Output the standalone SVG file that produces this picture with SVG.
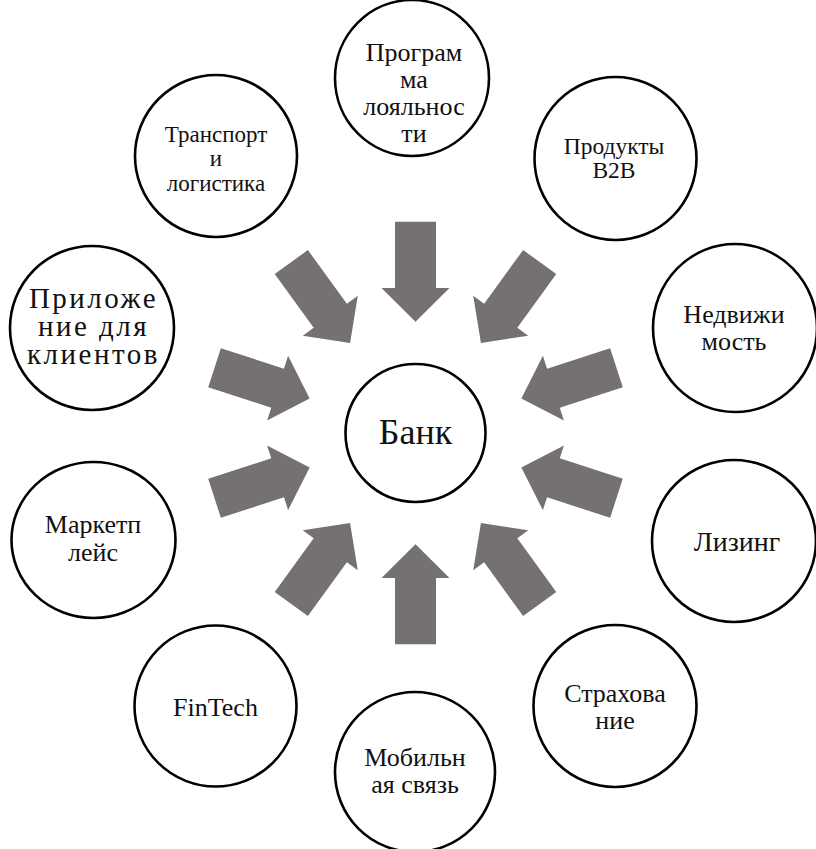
<svg xmlns="http://www.w3.org/2000/svg" width="816" height="849" viewBox="0 0 816 849">
<style>
.node ellipse{fill:#fff;stroke:#000;stroke-width:2.6}
.node text{font-family:"Liberation Serif","DejaVu Serif",serif;fill:#111;text-anchor:middle}
.arr{fill:#767171}
</style>
<defs>
<polygon id="arrow" points="-20.5,-211.3 20.5,-211.3 20.5,-145 34,-145 0,-111.3 -34,-145 -20.5,-145"/>
</defs>
<rect width="816" height="849" fill="#fff"/>
<g id="connectors" class="arr">
<use href="#arrow" transform="translate(415.5,433) rotate(0)"/>
<use href="#arrow" transform="translate(415.5,433) rotate(36)"/>
<use href="#arrow" transform="translate(415.5,433) rotate(72)"/>
<use href="#arrow" transform="translate(415.5,433) rotate(108)"/>
<use href="#arrow" transform="translate(415.5,433) rotate(144)"/>
<use href="#arrow" transform="translate(415.5,433) rotate(180)"/>
<use href="#arrow" transform="translate(415.5,433) rotate(216)"/>
<use href="#arrow" transform="translate(415.5,433) rotate(252)"/>
<use href="#arrow" transform="translate(415.5,433) rotate(288)"/>
<use href="#arrow" transform="translate(415.5,433) rotate(324)"/>
</g>
<g id="bank" class="node">
<ellipse cx="415.5" cy="433" rx="70" ry="69"/>
<text x="415.5" y="444" font-family="Liberation Serif, serif" font-size="36">Банк</text>
</g>
<g id="loyalty" class="node">
<ellipse cx="412" cy="78" rx="77" ry="78"/>
<text font-family="Liberation Serif, serif" font-size="26"><tspan x="414" y="61">Програм</tspan><tspan x="414" y="88">ма</tspan><tspan x="414" y="115">лояльнос</tspan><tspan x="414" y="142">ти</tspan></text>
</g>
<g id="b2b" class="node">
<ellipse cx="615.5" cy="158.5" rx="81" ry="81.5"/>
<text font-family="Liberation Serif, serif" font-size="23.5"><tspan x="614" y="154">Продукты</tspan><tspan x="614" y="178">B2B</tspan></text>
</g>
<g id="realty" class="node">
<ellipse cx="735" cy="328" rx="82" ry="84"/>
<text font-family="Liberation Serif, serif" font-size="26"><tspan x="734" y="323">Недвижи</tspan><tspan x="734" y="350">мость</tspan></text>
</g>
<g id="leasing" class="node">
<ellipse cx="734" cy="541" rx="82" ry="81"/>
<text x="737" y="551" font-family="Liberation Serif, serif" font-size="28">Лизинг</text>
</g>
<g id="insurance" class="node">
<ellipse cx="615" cy="706" rx="81.5" ry="81"/>
<text font-family="Liberation Serif, serif" font-size="26"><tspan x="615" y="702">Страхова</tspan><tspan x="615" y="729">ние</tspan></text>
</g>
<g id="mobile" class="node">
<ellipse cx="415" cy="772" rx="80" ry="80"/>
<text font-family="Liberation Serif, serif" font-size="26"><tspan x="415" y="766">Мобильн</tspan><tspan x="415" y="793">ая связь</tspan></text>
</g>
<g id="fintech" class="node">
<ellipse cx="215.5" cy="706" rx="81" ry="80.5"/>
<text x="215.5" y="716" font-family="Liberation Serif, serif" font-size="26">FinTech</text>
</g>
<g id="marketplace" class="node">
<ellipse cx="93.5" cy="540" rx="82" ry="78"/>
<text font-family="Liberation Serif, serif" font-size="26"><tspan x="93" y="533">Маркетп</tspan><tspan x="93" y="561">лейс</tspan></text>
</g>
<g id="app" class="node">
<ellipse cx="92" cy="328" rx="82" ry="82"/>
<text font-family="Liberation Serif, serif" font-size="29" letter-spacing="2.5"><tspan x="93.5" y="308">Приложе</tspan><tspan x="93.5" y="336">ние для</tspan><tspan x="93.5" y="364">клиентов</tspan></text>
</g>
<g id="transport" class="node">
<ellipse cx="216" cy="156" rx="81" ry="81"/>
<text font-family="Liberation Serif, serif" font-size="23"><tspan x="216" y="142">Транспорт</tspan><tspan x="216" y="166">и</tspan><tspan x="216" y="190.5">логистика</tspan></text>
</g>
</svg>
